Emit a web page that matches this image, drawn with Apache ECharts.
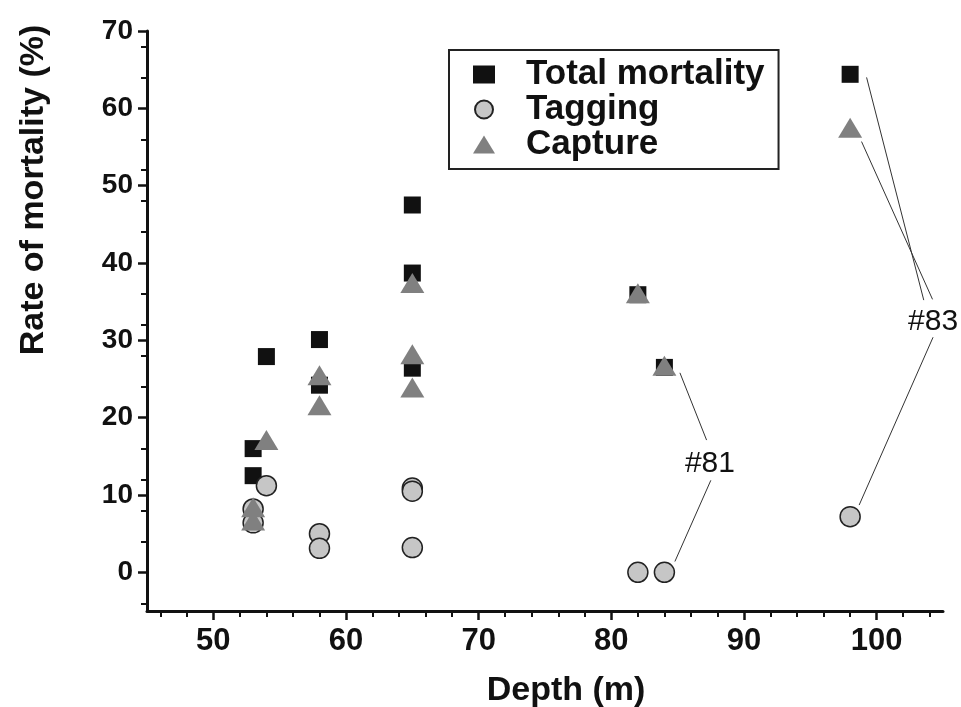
<!DOCTYPE html>
<html>
<head>
<meta charset="utf-8">
<script src="https://cdn.jsdelivr.net/npm/echarts@6/dist/echarts.min.js"></script>
<style>
  html, body { margin: 0; padding: 0; background: #fff; }
  #chart { width: 961px; height: 707px; }
</style>
</head>
<body>
<div id="chart"></div>
<script>
// depth (m), rate of mortality (%)
const totalMortality = [
  [53, 16.0], [53, 12.5], [54, 27.9], [58, 30.1], [58, 24.2],
  [65, 47.5], [65, 38.7], [65, 26.4], [82, 35.9], [84, 26.5], [98, 64.4]
];
const tagging = [
  [53, 8.2], [53, 6.4], [54, 11.2], [58, 5.0], [58, 3.1],
  [65, 10.9], [65, 10.5], [65, 3.2], [82, 0], [84, 0], [98, 7.2]
];
const capture = [
  [53, 8.4], [53, 6.7], [54, 17.1], [58, 25.5], [58, 21.6],
  [65, 37.4], [65, 28.2], [65, 23.9], [82, 36.1], [84, 26.7], [98, 57.5]
];

// callout labels and their leader lines (data coords)
const calloutLabels = [[87.43, 14.1, '#81'], [104.25, 32.4, '#83']];
const calloutLines = [
  [[85.17, 25.8], [87.18, 17.1]],
  [[87.5, 11.9], [84.79, 1.4]],
  [[99.24, 64.0], [103.55, 35.2]],
  [[98.86, 55.7], [104.21, 35.3]],
  [[104.25, 30.4], [98.68, 8.7]]
];

const xTicks = [50, 60, 70, 80, 90, 100];
const yTicks = [0, 10, 20, 30, 40, 50, 60, 70];

const FONT = '"Liberation Sans", Arial, sans-serif';

const chart = echarts.init(document.getElementById('chart'));

const axisCommon = {
  axisLine: { show: true, onZero: false, lineStyle: { color: '#111', width: 3 } },
  axisTick: { show: true, inside: false, length: 9, lineStyle: { color: '#111', width: 2.5 } },
  minorTick: { show: true, splitNumber: 5, length: 6, lineStyle: { color: '#111', width: 2 } },
  splitLine: { show: false },
  minorSplitLine: { show: false }
};

chart.setOption({
  backgroundColor: '#fff',
  animation: false,
  grid: { left: 147, right: 18, top: 31, bottom: 96, outerBoundsMode: 'none', containLabel: false },
  xAxis: {
    type: 'value',
    min: 45,
    max: 105,
    ...axisCommon,
    axisTick: { ...axisCommon.axisTick, customValues: xTicks },
    axisLabel: {
      customValues: xTicks,
      margin: 15,
      color: '#111',
      fontFamily: FONT,
      fontWeight: 'bold',
      fontSize: 31
    },
    name: 'Depth (m)',
    nameLocation: 'middle',
    nameGap: 63,
    nameTextStyle: {
      color: '#111',
      fontFamily: FONT,
      fontWeight: 'bold',
      fontSize: 34,
      padding: [0, 0, 0, 42]
    }
  },
  yAxis: {
    type: 'value',
    min: -5,
    max: 70,
    ...axisCommon,
    axisTick: { ...axisCommon.axisTick, customValues: yTicks },
    axisLabel: {
      customValues: yTicks,
      margin: 14,
      color: '#111',
      fontFamily: FONT,
      fontWeight: 'bold',
      fontSize: 28
    }
  },
  graphic: [{
    type: 'text',
    x: 34,
    y: 190,
    rotation: Math.PI / 2,
    style: {
      text: 'Rate of mortality (%)',
      fill: '#111',
      font: 'bold 34px ' + FONT,
      align: 'center',
      verticalAlign: 'middle'
    }
  }],
  legend: {
    data: ['Total mortality', 'Tagging', 'Capture'],
    orient: 'vertical',
    left: 449,
    top: 50,
    padding: [7, 14, 7, 24],
    itemGap: 0,
    itemWidth: 22,
    itemHeight: 18,
    borderColor: '#222',
    borderWidth: 2,
    textStyle: {
      color: '#111',
      fontFamily: FONT,
      fontWeight: 'bold',
      fontSize: 35,
      lineHeight: 35,
      padding: [0, 0, 0, 26]
    }
  },
  series: [
    {
      name: 'Total mortality',
      type: 'scatter',
      symbol: 'rect',
      symbolSize: 17,
      itemStyle: { color: '#111', opacity: 1 },
      data: totalMortality
    },
    {
      name: 'Tagging',
      type: 'scatter',
      symbol: 'circle',
      symbolSize: 20,
      itemStyle: { color: '#c6c6c6', borderColor: '#222', borderWidth: 1.5, opacity: 1 },
      data: tagging
    },
    {
      name: 'Capture',
      type: 'scatter',
      symbol: 'triangle',
      symbolSize: [24, 20],
      itemStyle: { color: '#808080', opacity: 1 },
      data: capture
    },
    {
      name: 'callout lines',
      type: 'lines',
      coordinateSystem: 'cartesian2d',
      silent: true,
      lineStyle: { color: '#333', width: 1, opacity: 1 },
      data: calloutLines.map(c => ({ coords: c }))
    },
    {
      name: 'callouts',
      type: 'scatter',
      silent: true,
      symbolSize: 1,
      itemStyle: { color: 'transparent', opacity: 1 },
      label: {
        show: true,
        position: 'inside',
        formatter: p => p.value[2],
        color: '#111',
        fontFamily: FONT,
        fontSize: 30
      },
      data: calloutLabels
    }
  ]
});
</script>
</body>
</html>
